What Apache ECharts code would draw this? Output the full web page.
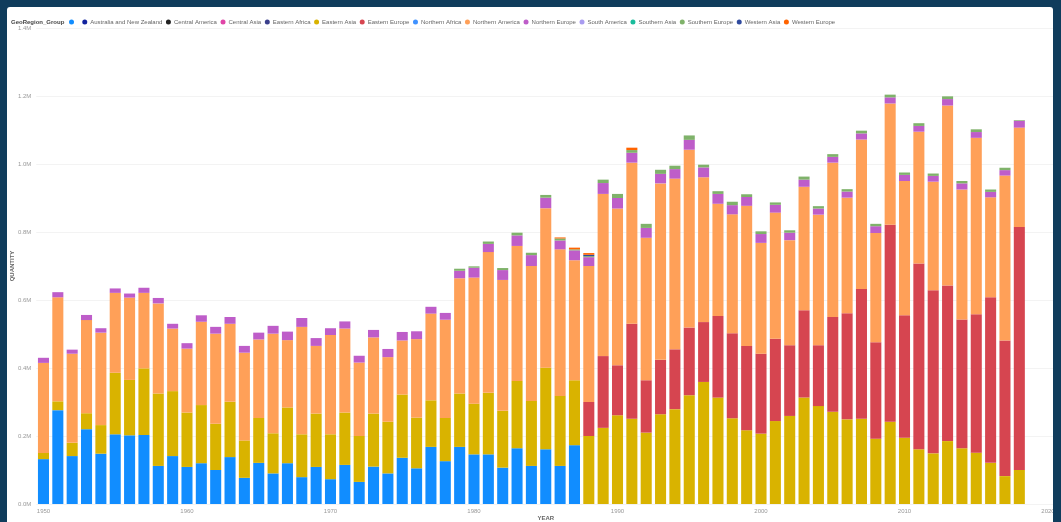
<!DOCTYPE html>
<html>
<head>
<meta charset="utf-8">
<script src="https://cdn.jsdelivr.net/npm/echarts@6/dist/echarts.min.js"></script>
<style>
  html, body { margin: 0; padding: 0; background: #103c5c; }
  #panel { position: absolute; left: 7px; top: 7px; width: 1046px; height: 520px; background: #fff; border-radius: 3px; }
  #chart { position: absolute; left: 0; top: 0; width: 1053px; height: 522px; }
</style>
</head>
<body>
<div id="panel"></div>
<div id="chart"></div>
<script>
// years on the x axis (2019, 2020 have no data)
const years = [];
for (let y = 1950; y <= 2020; y++) years.push(String(y));

// values in millions, 1950 .. 2018
const blankGroup = [0.132, 0.276, 0.141, 0.220, 0.148, 0.205, 0.202, 0.203, 0.112, 0.141,
  0.109, 0.120, 0.100, 0.138, 0.077, 0.121, 0.090, 0.120, 0.079, 0.109,
  0.073, 0.115, 0.065, 0.110, 0.090, 0.136, 0.105, 0.168, 0.126, 0.168,
  0.146, 0.146, 0.107, 0.164, 0.112, 0.161, 0.112, 0.173];
const easternAsia = [0.018, 0.026, 0.039, 0.047, 0.084, 0.181, 0.163, 0.196, 0.213, 0.191,
  0.160, 0.171, 0.136, 0.163, 0.110, 0.132, 0.118, 0.164, 0.126, 0.157,
  0.132, 0.154, 0.135, 0.156, 0.152, 0.186, 0.149, 0.137, 0.127, 0.157,
  0.149, 0.181, 0.167, 0.198, 0.191, 0.240, 0.206, 0.191, 0.200, 0.224,
  0.261, 0.251, 0.210, 0.264, 0.279, 0.320, 0.359, 0.313, 0.252, 0.217,
  0.207, 0.244, 0.259, 0.313, 0.288, 0.271, 0.249, 0.251, 0.192, 0.242,
  0.195, 0.161, 0.149, 0.185, 0.164, 0.151, 0.121, 0.082, 0.100];
const easternEurope = [null, null, null, null, null, null, null, null, null, null,
  null, null, null, null, null, null, null, null, null, null,
  null, null, null, null, null, null, null, null, null, null,
  null, null, null, null, null, null, null, null, 0.100, 0.211,
  0.147, 0.279, 0.154, 0.160, 0.176, 0.199, 0.176, 0.240, 0.250, 0.248,
  0.235, 0.242, 0.208, 0.257, 0.179, 0.279, 0.312, 0.381, 0.284, 0.579,
  0.360, 0.546, 0.480, 0.458, 0.379, 0.407, 0.487, 0.399, 0.715];
const northernAmerica = [0.265, 0.306, 0.262, 0.274, 0.272, 0.235, 0.242, 0.222, 0.265, 0.184,
  0.188, 0.245, 0.265, 0.229, 0.258, 0.231, 0.293, 0.198, 0.316, 0.199,
  0.292, 0.247, 0.216, 0.224, 0.190, 0.159, 0.231, 0.255, 0.289, 0.339,
  0.371, 0.414, 0.385, 0.397, 0.397, 0.469, 0.431, 0.353, 0.400, 0.477,
  0.461, 0.474, 0.419, 0.519, 0.502, 0.523, 0.426, 0.330, 0.350, 0.412,
  0.326, 0.371, 0.309, 0.363, 0.384, 0.454, 0.340, 0.440, 0.321, 0.357,
  0.395, 0.388, 0.319, 0.529, 0.382, 0.519, 0.294, 0.485, 0.292];
const northernEurope = [0.015, 0.015, 0.012, 0.015, 0.013, 0.013, 0.012, 0.015, 0.016, 0.014,
  0.016, 0.019, 0.020, 0.020, 0.020, 0.020, 0.023, 0.025, 0.026, 0.023,
  0.020, 0.021, 0.020, 0.022, 0.024, 0.025, 0.023, 0.020, 0.020, 0.022,
  0.029, 0.024, 0.029, 0.031, 0.032, 0.031, 0.026, 0.029, 0.026, 0.032,
  0.031, 0.029, 0.029, 0.028, 0.028, 0.029, 0.029, 0.029, 0.027, 0.026,
  0.026, 0.023, 0.022, 0.021, 0.018, 0.017, 0.018, 0.018, 0.020, 0.018,
  0.018, 0.017, 0.017, 0.019, 0.018, 0.017, 0.016, 0.016, 0.020];
const southernEurope = [0, 0, 0, 0, 0, 0, 0, 0, 0, 0,
  0, 0, 0, 0, 0, 0, 0, 0, 0, 0,
  0, 0, 0, 0, 0, 0, 0, 0, 0, 0.006,
  0.004, 0.007, 0.006, 0.008, 0.007, 0.008, 0.006, 0.003, 0.003, 0.010,
  0.012, 0.008, 0.012, 0.012, 0.010, 0.013, 0.008, 0.008, 0.010, 0.008,
  0.008, 0.007, 0.007, 0.009, 0.007, 0.008, 0.007, 0.008, 0.007, 0.008,
  0.007, 0.008, 0.007, 0.008, 0.007, 0.008, 0.007, 0.007, 0.002];
const westernAsia = [0, 0, 0, 0, 0, 0, 0, 0, 0, 0,
  0, 0, 0, 0, 0, 0, 0, 0, 0, 0,
  0, 0, 0, 0, 0, 0, 0, 0, 0, 0,
  0, 0, 0, 0, 0, 0, 0, 0, 0.004];
const westernEurope = [0, 0, 0, 0, 0, 0, 0, 0, 0, 0,
  0, 0, 0, 0, 0, 0, 0, 0, 0, 0,
  0, 0, 0, 0, 0, 0, 0, 0, 0, 0,
  0, 0, 0, 0, 0, 0, 0.003, 0.005, 0.005, 0,
  0, 0.007];

const groups = [
  { name: ' ', color: '#118DFF', data: blankGroup },
  { name: 'Australia and New Zealand', color: '#12239E', data: [] },
  { name: 'Central America', color: '#222222', data: [] },
  { name: 'Central Asia', color: '#E044A7', data: [] },
  { name: 'Eastern Africa', color: '#3B3F8C', data: [] },
  { name: 'Eastern Asia', color: '#D9B300', data: easternAsia },
  { name: 'Eastern Europe', color: '#D64550', data: easternEurope },
  { name: 'Northern Africa', color: '#4092FF', data: [] },
  { name: 'Northern America', color: '#FFA058', data: northernAmerica },
  { name: 'Northern Europe', color: '#BE5DC9', data: northernEurope },
  { name: 'South America', color: '#A99CF0', data: [] },
  { name: 'Southern Asia', color: '#1ABC9C', data: [] },
  { name: 'Southern Europe', color: '#7FB26A', data: southernEurope },
  { name: 'Western Asia', color: '#2F4A9E', data: westernAsia },
  { name: 'Western Europe', color: '#FF6300', data: westernEurope }
];

const font = 'Liberation Sans';
let myChart = echarts.init(document.getElementById('chart'));
let option = {
  animation: false,
  title: {
    text: 'GeoRegion_Group',
    left: 6, top: 14,
    textStyle: { fontFamily: font, fontSize: 6, fontWeight: 'bold', color: '#444' }
  },
  legend: {
    left: 64, top: 14,
    icon: 'circle',
    itemWidth: 5, itemHeight: 5, itemGap: 3.6,
    textStyle: { fontFamily: font, fontSize: 6, color: '#666', padding: [0, 0, 0, -2] },
    data: groups.map(g => g.name)
  },
  // grid runs a little past the white panel so the year bands match the picture
  grid: { left: 36.3, right: -2.2, top: 28, bottom: 18, containLabel: false, outerBoundsMode: 'none' },
  xAxis: {
    type: 'category',
    data: years,
    name: 'YEAR',
    nameLocation: 'middle',
    nameGap: 11,
    nameMoveOverlap: false,
    nameTextStyle: { fontFamily: font, fontSize: 6, fontWeight: 'bold', color: '#666' },
    axisLine: { show: false },
    axisTick: { show: false },
    axisLabel: { interval: 9, margin: 4, fontFamily: font, fontSize: 6, color: '#999' }
  },
  yAxis: {
    type: 'value',
    min: 0, max: 1.4, interval: 0.2,
    name: 'QUANTITY',
    nameLocation: 'middle',
    nameGap: 21,
    nameMoveOverlap: false,
    nameTextStyle: { fontFamily: font, fontSize: 6, fontWeight: 'bold', color: '#666' },
    axisLabel: { margin: 5, fontFamily: font, fontSize: 6, color: '#999',
      formatter: v => v.toFixed(1) + 'M' },
    splitLine: { lineStyle: { color: '#f3f3f3', width: 1 } }
  },
  series: groups.map(g => ({
    name: g.name,
    type: 'bar',
    stack: 'total',
    barCategoryGap: '23%',
    itemStyle: { color: g.color },
    data: g.data
  }))
};
myChart.setOption(option);
</script>
</body>
</html>
